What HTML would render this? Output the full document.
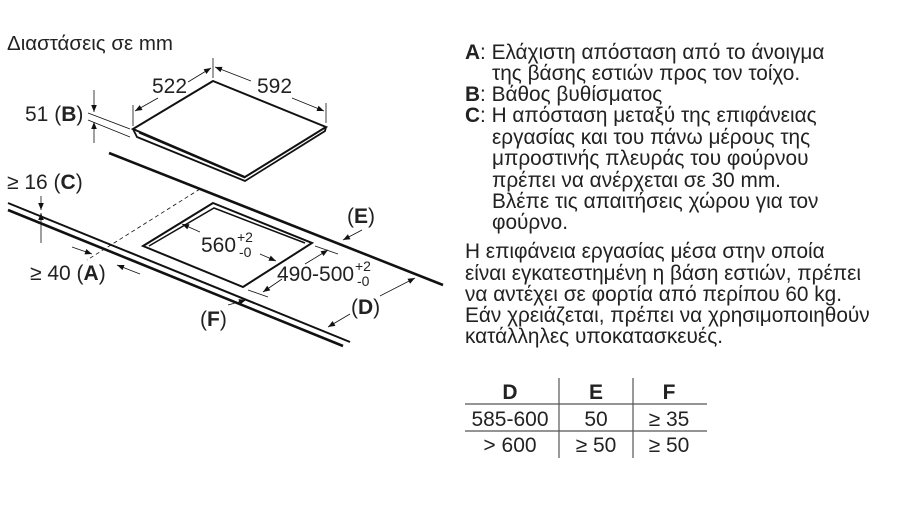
<!DOCTYPE html>
<html><head><meta charset="utf-8"><style>
html,body{margin:0;padding:0;background:#fff}
svg{display:block}
text{font-family:"Liberation Sans",sans-serif;fill:#222}
</style></head><body>
<svg width="900" height="506" viewBox="0 0 900 506" xmlns="http://www.w3.org/2000/svg">
<defs>
<marker id="a" viewBox="0 0 10 10" refX="10" refY="5" markerWidth="9" markerHeight="7" orient="auto-start-reverse" markerUnits="userSpaceOnUse"><path d="M0,1 L10,5 L0,9z" fill="#111"/></marker>
</defs>
<text x="7" y="50" font-size="20.5">Διαστάσεις σε mm</text>
<g stroke="#111" fill="none">
<polygon points="213,81 326,127 245,177 133,129" stroke-width="2" fill="#fff"/>
<polyline points="133,129 137,137 245,181 325,131 326,127" stroke-width="1.8"/>
<line x1="139" y1="133" x2="245" y2="178" stroke-width="1"/>
<line x1="109" y1="153" x2="443" y2="285" stroke-width="2.6"/>
<line x1="8" y1="203" x2="350" y2="342" stroke-width="2"/>
<line x1="8" y1="210" x2="343" y2="346" stroke-width="2.6"/>
<polygon points="213,203 312,243 243,287 143,246" stroke-width="2"/>
<polyline points="149,246 214,208 305,243" stroke-width="1.5"/>
<line x1="200" y1="189" x2="87" y2="260" stroke-width="0.8" stroke-dasharray="4,3"/>
<line x1="213" y1="58" x2="213" y2="78" stroke-width="0.8"/>
<line x1="133" y1="105" x2="133" y2="126" stroke-width="0.8"/>
<line x1="326" y1="103" x2="326" y2="123" stroke-width="0.8"/>
<line x1="188" y1="82" x2="211" y2="68" stroke-width="0.8" marker-end="url(#a)"/>
<line x1="158" y1="98" x2="135" y2="111" stroke-width="0.8" marker-end="url(#a)"/>
<line x1="251" y1="81" x2="215" y2="67" stroke-width="0.8" marker-end="url(#a)"/>
<line x1="292" y1="98" x2="324" y2="111" stroke-width="0.8" marker-end="url(#a)"/>
<line x1="88" y1="113" x2="130" y2="129" stroke-width="0.8"/>
<line x1="88" y1="120" x2="130" y2="137" stroke-width="0.8"/>
<line x1="94" y1="90" x2="94" y2="112" stroke-width="0.8" marker-end="url(#a)"/>
<line x1="94" y1="143" x2="94" y2="122" stroke-width="0.8" marker-end="url(#a)"/>
<line x1="41" y1="196" x2="41" y2="210" stroke-width="0.8" marker-end="url(#a)"/>
<line x1="41" y1="243" x2="41" y2="213" stroke-width="0.8" marker-end="url(#a)"/>
<line x1="72" y1="247" x2="92" y2="254" stroke-width="0.8" marker-end="url(#a)"/>
<line x1="140" y1="274" x2="117" y2="265" stroke-width="0.8" marker-end="url(#a)"/>
<line x1="200" y1="232" x2="182" y2="224" stroke-width="0.8" marker-end="url(#a)"/>
<line x1="260" y1="254" x2="276" y2="261" stroke-width="0.8" marker-end="url(#a)"/>
<line x1="315" y1="246" x2="338" y2="254" stroke-width="0.8"/>
<line x1="248" y1="290" x2="268" y2="297" stroke-width="0.8"/>
<line x1="305" y1="264" x2="328" y2="250" stroke-width="0.8" marker-end="url(#a)"/>
<line x1="282" y1="279" x2="263" y2="292" stroke-width="0.8" marker-end="url(#a)"/>
<line x1="362" y1="230" x2="343" y2="240" stroke-width="0.8" marker-end="url(#a)"/>
<line x1="380" y1="296" x2="415" y2="278" stroke-width="0.8" marker-end="url(#a)"/>
<line x1="350" y1="314" x2="328" y2="327" stroke-width="0.8" marker-end="url(#a)"/>
<line x1="228" y1="305" x2="246" y2="300" stroke-width="0.8" marker-end="url(#a)"/>
</g>
<g font-size="21">
<text x="152" y="93">522</text>
<text x="257" y="93">592</text>
<text x="25" y="121">51 (<tspan font-weight="bold">B</tspan>)</text>
<text x="7" y="189">≥ 16 (<tspan font-weight="bold">C</tspan>)</text>
<text x="30" y="280">≥ 40 (<tspan font-weight="bold">A</tspan>)</text>
<text x="201" y="252">560</text><text x="237" y="242" font-size="14">+2</text><text x="239" y="257" font-size="14">-0</text>
<text x="277" y="281">490-500</text><text x="355" y="271" font-size="14">+2</text><text x="357" y="286" font-size="14">-0</text>
<text x="347" y="223">(<tspan font-weight="bold">E</tspan>)</text>
<text x="351" y="314">(<tspan font-weight="bold">D</tspan>)</text>
<text x="200" y="326">(<tspan font-weight="bold">F</tspan>)</text>
</g>
<g font-size="20.8">
<text x="465" y="59"><tspan font-weight="bold">A</tspan>: Ελάχιστη απόσταση από το άνοιγμα</text>
<text x="492" y="80">της βάσης εστιών προς τον τοίχο.</text>
<text x="465" y="101"><tspan font-weight="bold">B</tspan>: Βάθος βυθίσματος</text>
<text x="465" y="122"><tspan font-weight="bold">C</tspan>: Η απόσταση μεταξύ της επιφάνειας</text>
<text x="492" y="144">εργασίας και του πάνω μέρους της</text>
<text x="492" y="165">μπροστινής πλευράς του φούρνου</text>
<text x="492" y="187">πρέπει να ανέρχεται σε 30 mm.</text>
<text x="492" y="208">Βλέπε τις απαιτήσεις χώρου για τον</text>
<text x="492" y="229">φούρνο.</text>
<text x="465" y="258">Η επιφάνεια εργασίας μέσα στην οποία</text>
<text x="465" y="280">είναι εγκατεστημένη η βάση εστιών, πρέπει</text>
<text x="465" y="301">να αντέχει σε φορτία από περίπου 60 kg.</text>
<text x="465" y="322">Εάν χρειάζεται, πρέπει να χρησιμοποιηθούν</text>
<text x="465" y="343">κατάλληλες υποκατασκευές.</text>
</g>
<g stroke="#555" stroke-width="1.2">
<line x1="465" y1="404" x2="707" y2="404"/>
<line x1="465" y1="431" x2="707" y2="431"/>
<line x1="559" y1="378" x2="559" y2="458"/>
<line x1="633" y1="378" x2="633" y2="458"/>
</g>
<g font-size="21" text-anchor="middle">
<text x="510" y="399" font-weight="bold">D</text>
<text x="596" y="399" font-weight="bold">E</text>
<text x="669" y="399" font-weight="bold">F</text>
<text x="510" y="426">585-600</text>
<text x="596" y="426">50</text>
<text x="669" y="426">≥ 35</text>
<text x="510" y="452">&gt; 600</text>
<text x="596" y="452">≥ 50</text>
<text x="669" y="452">≥ 50</text>
</g>
</svg>
</body></html>
